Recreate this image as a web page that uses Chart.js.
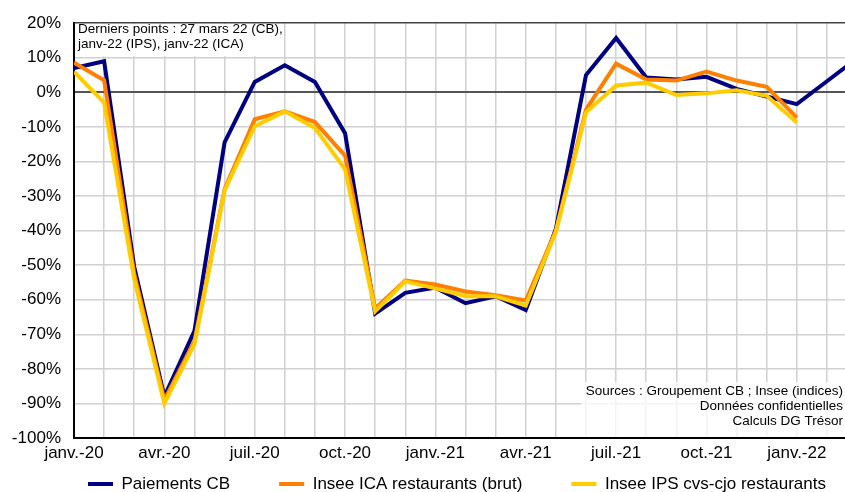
<!DOCTYPE html>
<html>
<head>
<meta charset="utf-8">
<script src="https://cdn.jsdelivr.net/npm/chart.js@4/dist/chart.umd.min.js"></script>
<style>
  html, body { margin: 0; padding: 0; background: #fff; }
  #wrap { width: 845px; height: 492px; }
</style>
</head>
<body>
<div id="wrap"><canvas id="myChart"></canvas></div>
<script>
// mois de janv.-20 à mars-22, une étiquette tous les trois mois
const ticksMois = ['janv.-20', 'avr.-20', 'juil.-20', 'oct.-20', 'janv.-21', 'avr.-21', 'juil.-21', 'oct.-21', 'janv.-22'];

const paiementsCB = [7, 9, -50.5, -88, -69, -14.5, 3, 7.8, 3, -11.8, -64, -58, -56.5, -61, -59, -63, -39.5, 5, 15.7, 4.3, 3.7, 4.5, 1, -1.2, -3.4, 3.2, 9.8];
const inseeICA = [8.6, 3.5, -52.5, -89, -72, -28, -7.8, -5.5, -8.6, -18.3, -62.5, -54.5, -55.6, -57.6, -58.7, -60.2, -40, -5, 8.3, 3.7, 3.4, 6, 3.4, 1.6, -7.3];
const inseeIPS = [6, -3, -54, -90, -72.8, -28.4, -9.8, -5.5, -10.3, -22.3, -63.3, -54.7, -56.7, -59, -59, -61.7, -40.4, -5.8, 2, 2.8, -0.8, -0.3, 0.6, -1, -8.7];

const noteHaut = ['Derniers points : 27 mars 22 (CB),', 'janv-22 (IPS), janv-22 (ICA)'];
const noteBas = ['Sources : Groupement CB ; Insee (indices)', 'Données confidentielles', 'Calculs DG Trésor'];

const FONT = "'Liberation Sans', Arial, sans-serif";
const LEG_PAD = 49;

function points(arr) {
  return arr.map((v, i) => ({x: i, y: v}));
}

const notes = {
  id: 'notes',
  afterLayout(chart) {
    // légende recalée comme sur l'original
    const lg = chart.legend;
    lg.left += 34.5;
    lg.right += 34.5;
    lg.top = 484 - 8.5 - LEG_PAD;
    lg.bottom = lg.top + lg.height;
  },
  beforeDatasetsDraw(chart) {
    const ctx = chart.ctx;
    const a = chart.chartArea;
    ctx.save();
    ctx.fillStyle = '#fff';
    ctx.fillRect(a.left + 1, a.top + 1, 209, 32);
    ctx.fillStyle = 'rgba(255,255,255,0.75)';
    ctx.fillRect(581, 382, a.right - 581, a.bottom - 383);
    ctx.fillStyle = '#000';
    ctx.font = '13.5px ' + FONT;
    ctx.textBaseline = 'middle';
    ctx.textAlign = 'left';
    ctx.fillText(noteHaut[0], 78, 29);
    ctx.fillText(noteHaut[1], 78, 44);
    ctx.textAlign = 'right';
    ctx.fillText(noteBas[0], 843, 391);
    ctx.fillText(noteBas[1], 843, 406);
    ctx.fillText(noteBas[2], 843, 421.5);
    ctx.restore();
  }
};

const data = {
  datasets: [
    {
      label: 'Paiements CB',
      data: points(paiementsCB),
      borderColor: '#000080',
      backgroundColor: '#000080',
      pointBorderWidth: 4,
      order: 3
    },
    {
      label: 'Insee ICA restaurants (brut)',
      data: points(inseeICA),
      borderColor: '#ff7f00',
      backgroundColor: '#ff7f00',
      pointBorderWidth: 4,
      order: 2
    },
    {
      label: 'Insee IPS cvs-cjo restaurants',
      data: points(inseeIPS),
      borderColor: '#ffcc00',
      backgroundColor: '#ffcc00',
      pointBorderWidth: 4,
      order: 1
    }
  ]
};

const config = {
  type: 'line',
  data: data,
  plugins: [notes],
  options: {
    responsive: false,
    animation: false,
    events: [],
    layout: { padding: { top: 19, left: 0, right: 0, bottom: -52 } },
    elements: {
      line: { borderWidth: 4, tension: 0 },
      point: { radius: 0 }
    },
    scales: {
      x: {
        type: 'linear',
        min: 0,
        max: 25.6,
        afterFit: (s) => { s.height = 30; },
        border: { color: '#000', width: 2 },
        grid: { color: '#d0d0d0', lineWidth: 1.5, drawTicks: false },
        ticks: {
          stepSize: 1,
          autoSkip: false,
          maxRotation: 0,
          includeBounds: false,
          padding: 5,
          color: '#000',
          font: { family: FONT, size: 17 },
          callback: (v) => (v % 3 === 0 ? ticksMois[v / 3] : '')
        }
      },
      y: {
        min: -100,
        max: 20,
        afterFit: (s) => { s.width = 74; },
        border: { color: '#000', width: 2 },
        grid: {
          drawTicks: false,
          color: (c) => c.tick.value === 0 ? '#555' : (c.tick.value === 20 ? '#444' : '#d0d0d0'),
          lineWidth: (c) => c.tick.value === 0 ? 2 : 1.5
        },
        ticks: {
          stepSize: 10,
          padding: 13,
          color: '#000',
          font: { family: FONT, size: 17 },
          callback: (v) => v + '%'
        }
      }
    },
    plugins: {
      tooltip: { enabled: false },
      legend: {
        position: 'bottom',
        labels: {
          sort: (a, b) => a.datasetIndex - b.datasetIndex,
          usePointStyle: true,
          pointStyle: 'line',
          pointStyleWidth: 25,
          padding: LEG_PAD,
          color: '#000',
          font: { family: FONT, size: 17 }
        }
      }
    }
  }
};

const canvas = document.getElementById('myChart');
canvas.width = 845;
canvas.height = 492;
var myChart = new Chart(canvas, config);
</script>
</body>
</html>
